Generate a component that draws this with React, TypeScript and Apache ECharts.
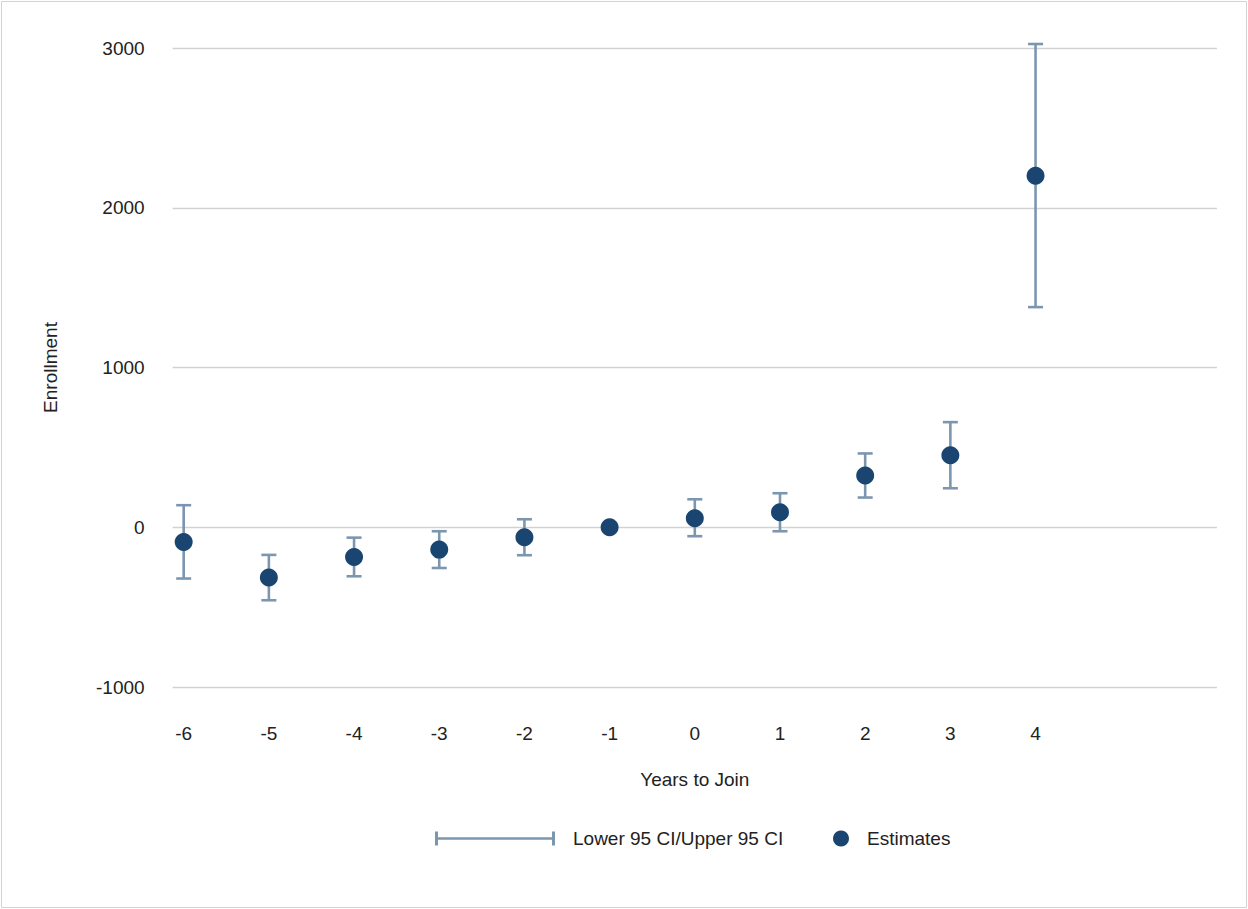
import React, { useEffect, useRef } from "react";
import * as echarts from "echarts";

const years = [-6, -5, -4, -3, -2, -1, 0, 1, 2, 3, 4];
const estimates = [-92, -315, -186, -140, -63, 0, 56, 94, 324, 451, 2200];
const lower95: (number | null)[] = [-321, -457, -307, -255, -175, null, -56, -25, 186, 244, 1378];
const upper95: (number | null)[] = [138, -173, -65, -25, 50, null, 175, 213, 462, 658, 3025];
const yTicks = [-1000, 0, 1000, 2000, 3000];

const CI_NAME = "Lower 95 CI/Upper 95 CI";
const EST_NAME = "Estimates";
const ERR_COLOR = "#7d96b0";
const PT_COLOR = "#1b4571";
const FONT = "Liberation Sans, Arial, sans-serif";
const FS = 19;

export default function App() {
  const ref = useRef<HTMLDivElement>(null);
  useEffect(() => {
    document.body.style.margin = "0";
    const chart = echarts.init(ref.current!, null, { renderer: "svg" });
    const ciData: number[][] = [];
    years.forEach((y, i) => {
      const lo = lower95[i];
      const hi = upper95[i];
      if (lo !== null && hi !== null) ciData.push([y, lo, hi]);
    });
    const estData = years.map((y, i) => [y, estimates[i]]);

    chart.setOption({
      animation: false,
      textStyle: { fontFamily: FONT },
      graphic: [
        {
          type: "rect",
          shape: { x: 1.5, y: 1.5, width: 1245, height: 906 },
          style: { fill: "none", stroke: "#d3d3d3", lineWidth: 1 },
          silent: true,
        },
      ],
      grid: { left: 172.6, right: 31, top: 48, bottom: 222, containLabel: false },
      legend: [
        {
          left: 430,
          top: 824,
          itemWidth: 120,
          itemHeight: 14,
          data: [
            {
              name: CI_NAME,
              icon: "path://M0,0h3v14h-3z M3,5.75h114v2.5h-114z M117,0h3v14h-3z",
              itemStyle: { color: ERR_COLOR },
            },
          ],
          textStyle: { fontSize: FS, color: "#222", fontFamily: FONT, padding: [0, 0, 0, 13] },
        },
        {
          left: 828,
          top: 824,
          itemWidth: 16,
          itemHeight: 16,
          data: [{ name: EST_NAME, icon: "circle", itemStyle: { color: PT_COLOR } }],
          textStyle: { fontSize: FS, color: "#222", fontFamily: FONT, padding: [0, 0, 0, 13] },
        },
      ],
      xAxis: {
        type: "value",
        min: -6.13,
        max: 6.13,
        name: "Years to Join",
        nameLocation: "middle",
        nameGap: 82.5,
        nameTextStyle: { fontSize: FS, color: "#222", fontFamily: FONT },
        axisLine: { show: false },
        axisTick: { show: false },
        splitLine: { show: false },
        axisLabel: {
          customValues: years,
          margin: 36.5,
          fontSize: FS,
          color: "#222",
          fontFamily: FONT,
        },
      },
      yAxis: {
        type: "value",
        min: -1000,
        max: 3000,
        interval: 1000,
        name: "Enrollment",
        nameLocation: "middle",
        nameGap: 113,
        nameRotate: 90,
        nameTextStyle: { fontSize: FS, color: "#222", fontFamily: FONT },
        axisLine: { show: false },
        axisTick: { show: false },
        splitLine: { show: true, lineStyle: { color: "#d2d2d2", width: 1.3 } },
        axisLabel: {
          customValues: yTicks,
          formatter: (v: number) => String(v),
          margin: 28,
          fontSize: FS,
          color: "#222",
          fontFamily: FONT,
        },
      },
      series: [
        {
          name: CI_NAME,
          type: "custom",
          z: 1,
          clip: false,
          itemStyle: { color: ERR_COLOR },
          encode: { x: 0, y: [1, 2] },
          data: ciData,
          renderItem: (params: any, api: any) => {
            const x = api.value(0);
            const lo = api.value(1);
            const hi = api.value(2);
            const pLo = api.coord([x, lo]);
            const pHi = api.coord([x, hi]);
            const hw = 7.5;
            const style = { stroke: ERR_COLOR, lineWidth: 2.6 };
            return {
              type: "group",
              children: [
                { type: "line", shape: { x1: pLo[0], y1: pLo[1], x2: pHi[0], y2: pHi[1] }, style },
                { type: "line", shape: { x1: pLo[0] - hw, y1: pLo[1], x2: pLo[0] + hw, y2: pLo[1] }, style },
                { type: "line", shape: { x1: pHi[0] - hw, y1: pHi[1], x2: pHi[0] + hw, y2: pHi[1] }, style },
              ],
            };
          },
        },
        {
          name: EST_NAME,
          type: "scatter",
          z: 3,
          symbol: "circle",
          symbolSize: 18,
          itemStyle: { color: PT_COLOR, opacity: 1 },
          data: estData,
        },
      ],
    });
    return () => chart.dispose();
  }, []);
  return <div ref={ref} style={{ width: 1248, height: 909 }} />;
}
